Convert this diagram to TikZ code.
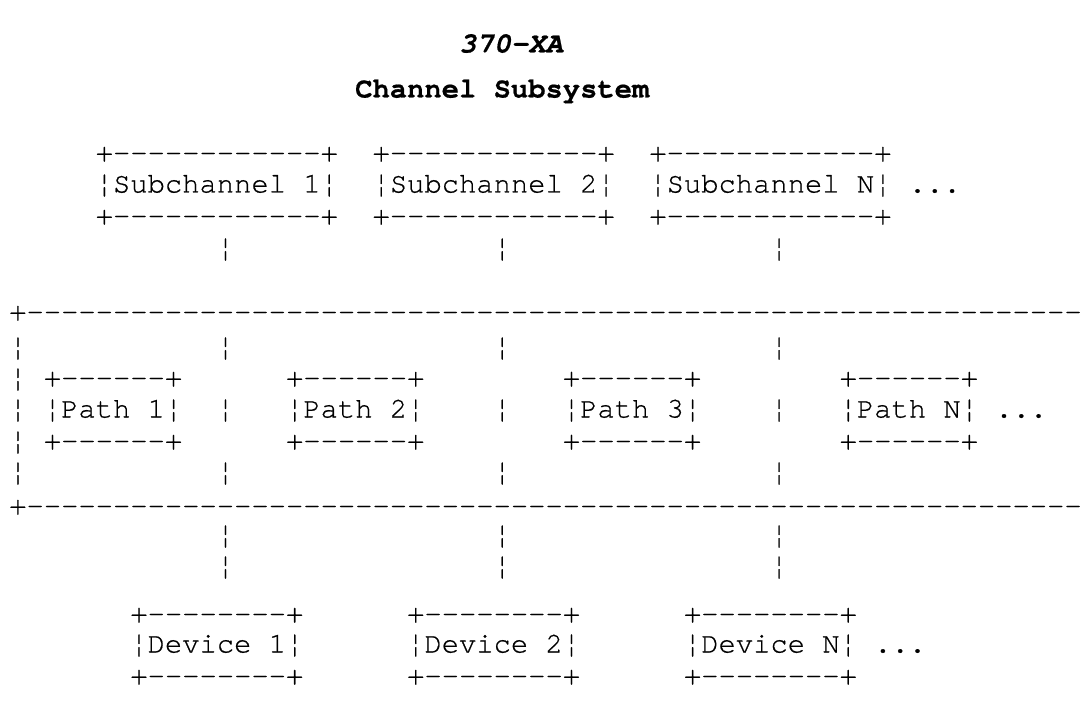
\documentclass[tikz,border=0pt]{standalone}
\usepackage{fontspec}
\newfontfamily\asciimono[FakeBold=0.6,BoldFeatures={FakeBold=0.6}]{TeX Gyre Cursor}
\begin{document}
\begin{tikzpicture}[x=1pt,y=-1pt,
  txt/.style={anchor=base west,inner sep=0pt,outer sep=0pt,font=\asciimono\fontsize{28.83}{32}\selectfont},
  ttl/.style={txt,font=\asciimono\bfseries\itshape\fontsize{28.83}{32}\selectfont},
  hdr/.style={txt,font=\asciimono\bfseries\fontsize{28.83}{32}\selectfont}]
\useasboundingbox (0,0) rectangle (1085,711);
\def\cw{17.3}
\def\xo{9.25}
\def\dy{9.5}
% rows (visual centres)
\def\rT{43}\def\rC{88}
\def\rA{152}\def\rB{183}\def\rCc{215}\def\rD{247}
\def\rE{311}\def\rF{346}\def\rG{377}\def\rH{408}\def\rI{440}\def\rJ{471}
\def\rK{505}\def\rL{534}\def\rM{565}
\def\rN{613}\def\rO{643}\def\rP{675}
\newcommand\at[2]{(\xo+\cw*#1,#2+\dy)}
% titles
\node[ttl] (title) at \at{26}{\rT} {370-XA};
\node[hdr] (cs) at \at{20}{\rC} {Channel Subsystem};
% subchannels
\foreach \c/\n/\lab in {5/s1/Subchannel 1,21/s2/Subchannel 2,37/sn/Subchannel N}{
  \node[txt] (\n t) at \at{\c}{\rA} {+------------+};
  \node[txt] (\n) at \at{\c}{\rB} {¦\lab¦};
  \node[txt] (\n b) at \at{\c}{\rCc} {+------------+};
}
\node[txt] (sdots) at \at{52}{\rB} {...};
\foreach \c/\n in {12/a,28/b,44/c}{
  \node[txt] (v1\n) at \at{\c}{\rD} {¦};
}
% big box
\node[txt] (topline) at \at{0}{\rE} {+-------------------------------------------------------------};
\foreach \r/\k in {\rF/f,\rG/g,\rH/h,\rI/i,\rJ/j}{
  \node[txt] (lb\k) at \at{0}{\r} {¦};
}
\foreach \c/\n in {12/a,28/b,44/c}{
  \node[txt] (vf\n) at \at{\c}{\rF} {¦};
  \node[txt] (vh\n) at \at{\c}{\rH} {¦};
  \node[txt] (vj\n) at \at{\c}{\rJ} {¦};
}
\foreach \c/\n/\lab in {2/p1/Path 1,16/p2/Path 2,32/p3/Path 3,48/pn/Path N}{
  \node[txt] (\n t) at \at{\c}{\rG} {+------+};
  \node[txt] (\n) at \at{\c}{\rH} {¦\lab¦};
  \node[txt] (\n b) at \at{\c}{\rI} {+------+};
}
\node[txt] (pdots) at \at{57}{\rH} {...};
\node[txt] (botline) at \at{0}{\rK} {+-------------------------------------------------------------};
\foreach \c/\n in {12/a,28/b,44/c}{
  \node[txt] (vl\n) at \at{\c}{\rL} {¦};
  \node[txt] (vm\n) at \at{\c}{\rM} {¦};
}
% devices
\foreach \c/\n/\lab in {7/d1/Device 1,23/d2/Device 2,39/dn/Device N}{
  \node[txt] (\n t) at \at{\c}{\rN} {+--------+};
  \node[txt] (\n) at \at{\c}{\rO} {¦\lab¦};
  \node[txt] (\n b) at \at{\c}{\rP} {+--------+};
}
\node[txt] (ddots) at \at{50}{\rO} {...};
\end{tikzpicture}
\end{document}
